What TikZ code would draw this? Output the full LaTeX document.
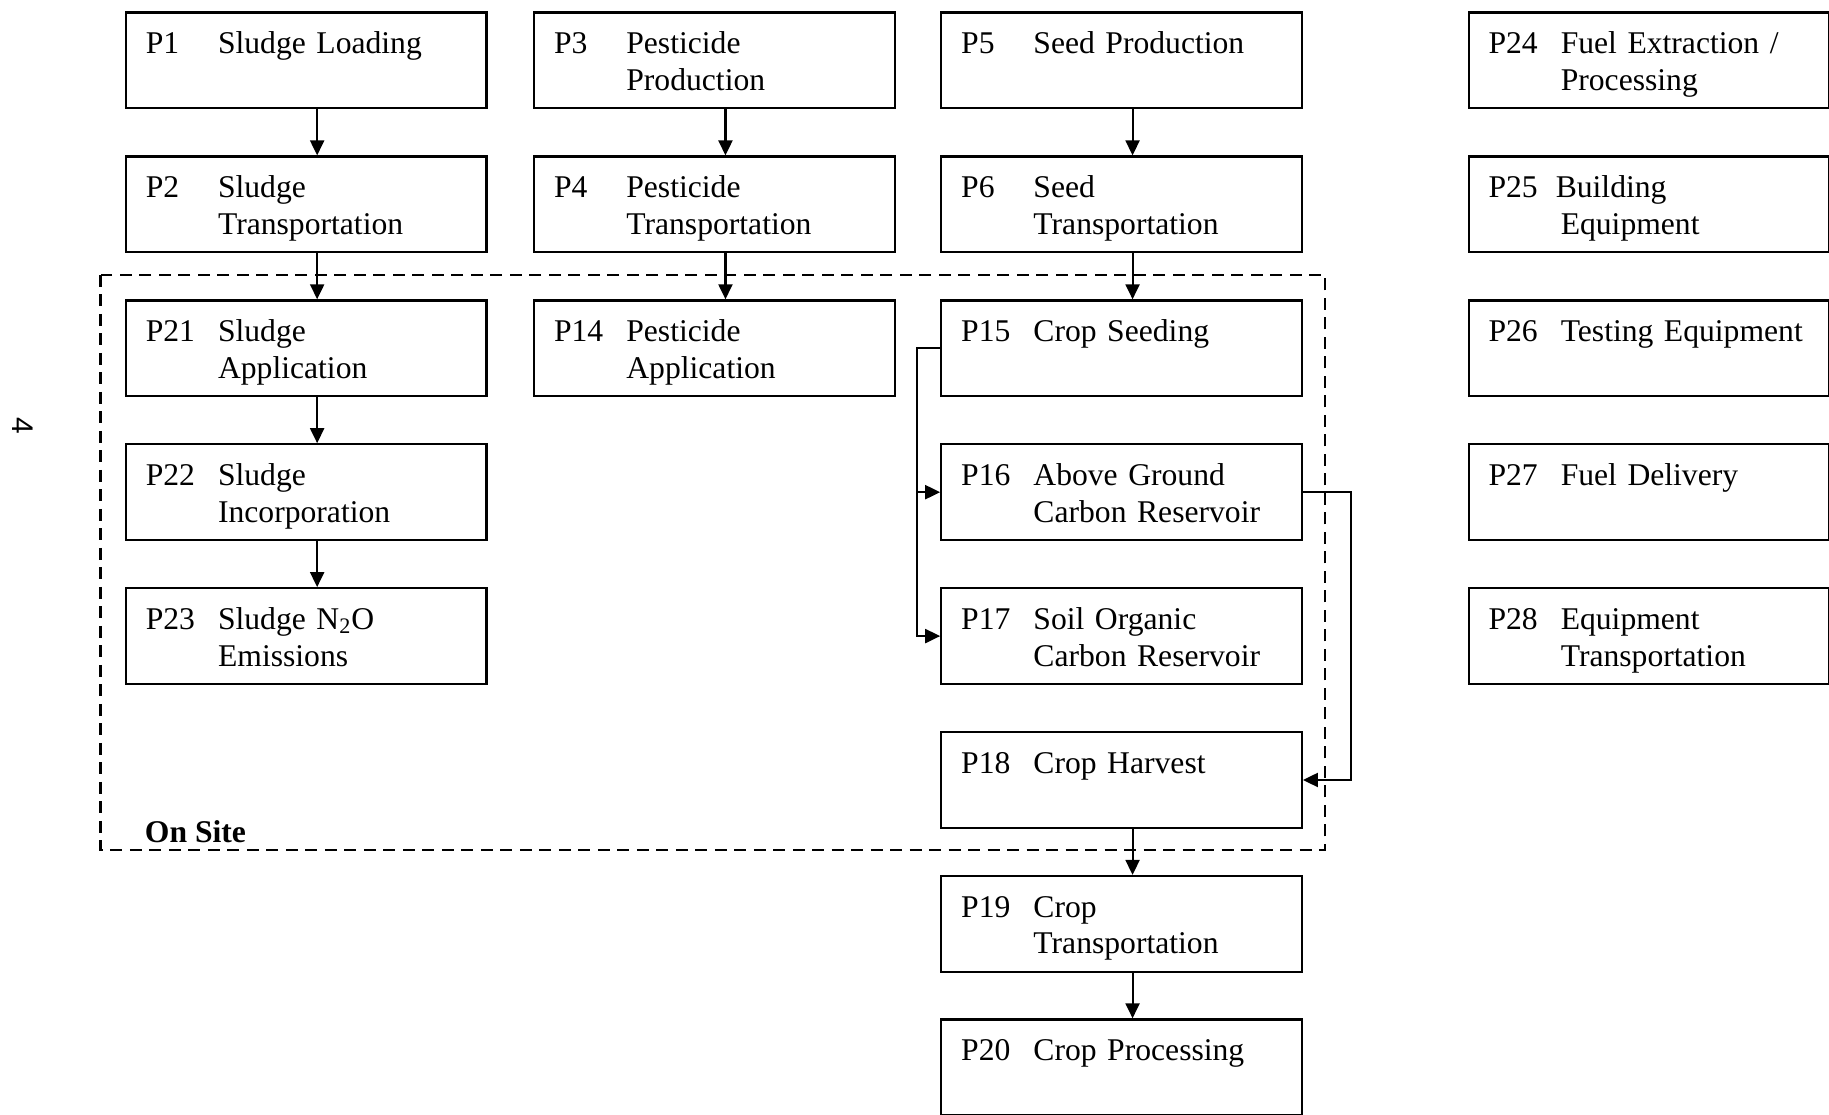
\documentclass[tikz,border=0pt]{standalone}
\usepackage{fontspec}
\setmainfont{Liberation Serif}
\newfontfamily\pagefont{Liberation Sans}
\usetikzlibrary{arrows.meta}

% number column + (possibly two-line) name
\newcommand{\ptext}[2]{\makebox[1.446cm][l]{#1}\begin{tabular}[t]{@{}l@{}}#2\end{tabular}}

\begin{document}
\begin{tikzpicture}[x=0.02cm,y=-0.02cm,
    pbox/.style={draw,line width=1.3pt,anchor=north west,
      inner xsep=0.397cm,inner ysep=0.2cm,text width=6.416cm,align=left,
      text height=0.62cm,text depth=0.894cm,
      font=\fontsize{18}{21}\selectfont},
    flow/.style={line width=1.2pt,-{Triangle[length=0.3cm,width=0.28cm]}},
    site/.style={line width=1.4pt,dash pattern=on 0.24cm off 0.15cm}
  ]
\useasboundingbox (0,0) rectangle (1829,1115);

% sludge column
\node[pbox] (p1)  at (124.8,11.5)  {\ptext{P1}{Sludge Loading}};
\node[pbox] (p2)  at (124.8,155.4) {\ptext{P2}{Sludge\\Transportation}};
\node[pbox] (p21) at (124.8,299.3) {\ptext{P21}{Sludge\\Application}};
\node[pbox] (p22) at (124.8,443.2) {\ptext{P22}{Sludge\\Incorporation}};
\node[pbox] (p23) at (124.8,587.1) {\ptext{P23}{Sludge N\textsubscript{2}O\\Emissions}};

% pesticide column
\node[pbox] (p3)  at (533.1,11.5)  {\ptext{P3}{Pesticide\\Production}};
\node[pbox] (p4)  at (533.1,155.4) {\ptext{P4}{Pesticide\\Transportation}};
\node[pbox] (p14) at (533.1,299.3) {\ptext{P14}{Pesticide\\Application}};

% crop column
\node[pbox] (p5)  at (940.2,11.5)  {\ptext{P5}{Seed Production}};
\node[pbox] (p6)  at (940.2,155.4) {\ptext{P6}{Seed\\Transportation}};
\node[pbox] (p15) at (940.2,299.3) {\ptext{P15}{Crop Seeding}};
\node[pbox] (p16) at (940.2,443.2) {\ptext{P16}{Above Ground\\Carbon Reservoir}};
\node[pbox] (p17) at (940.2,587.1) {\ptext{P17}{Soil Organic\\Carbon Reservoir}};
\node[pbox] (p18) at (940.2,731.0) {\ptext{P18}{Crop Harvest}};
\node[pbox] (p19) at (940.2,874.9) {\ptext{P19}{Crop\\Transportation}};
\node[pbox] (p20) at (940.2,1018.3) {\ptext{P20}{Crop Processing}};

% equipment / fuel column
\node[pbox] (p24) at (1467.5,11.5)  {\ptext{P24}{Fuel Extraction /\\Processing}};
\node[pbox] (p25) at (1467.5,155.4) {\ptext{P25}{\hspace*{-0.1cm}Building\\Equipment}};
\node[pbox] (p26) at (1467.5,299.3) {\ptext{P26}{Testing Equipment}};
\node[pbox] (p27) at (1467.5,443.2) {\ptext{P27}{Fuel Delivery}};
\node[pbox] (p28) at (1467.5,587.1) {\ptext{P28}{Equipment\\Transportation}};

% on site boundary
\draw[site] (100.5,275) rectangle (1325,850);
\node[anchor=base west,inner sep=0pt,font=\fontsize{18}{21}\selectfont\bfseries] (onsite) at (144.6,842) {On Site};

\node[rotate=-90,inner sep=0pt,font=\pagefont\fontsize{17}{20}\selectfont] (pagenum) at (23,426) {4};

% flows
\foreach \a/\b in {p1/p2,p2/p21,p21/p22,p22/p23,p3/p4,p4/p14,p5/p6,p6/p15,p18/p19,p19/p20}
  \draw[flow] ([xshift=0.22cm]\a.south) -- ([xshift=0.22cm]\b.north);
\draw[flow] (p15.west) -- ++(-23,0) |- (p16.west);
\draw[flow] (p15.west) -- ++(-23,0) |- (p17.west);
\draw[flow] (p16.east) -- ++(48,0) |- (p18.east);
\end{tikzpicture}
\end{document}
